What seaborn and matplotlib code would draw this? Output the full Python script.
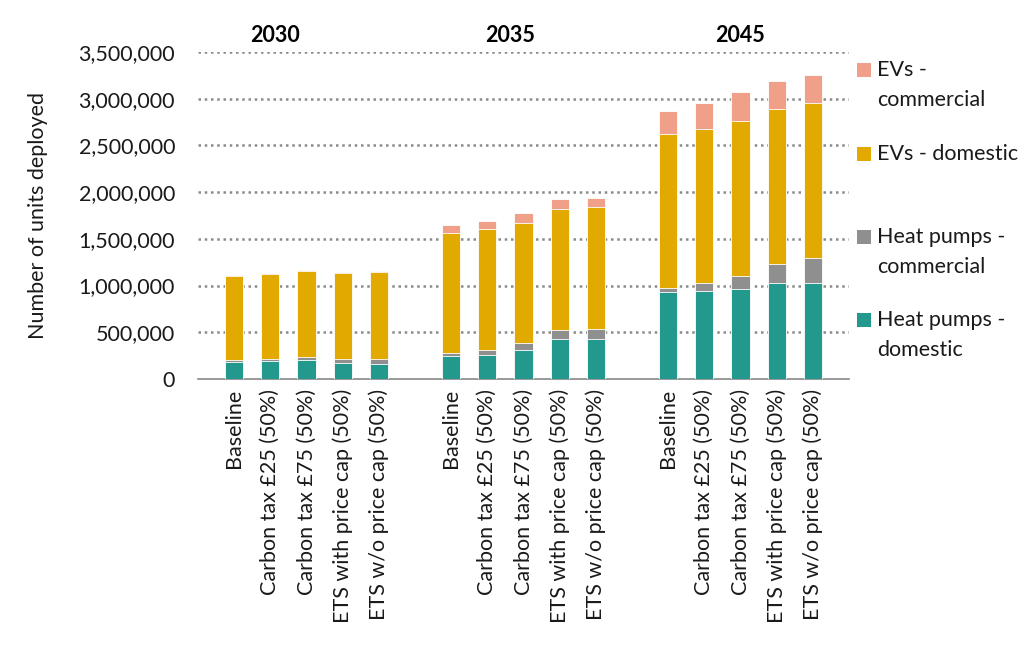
import numpy as np
import pandas as pd
import matplotlib as mpl
mpl.use('Agg')
import matplotlib.pyplot as plt
import seaborn as sns
from matplotlib.patches import Rectangle

# data (units deployed)
years = ['2030', '2035', '2045']
scenarios = ['Baseline', 'Carbon tax £25 (50%)', 'Carbon tax £75 (50%)',
             'ETS with price cap (50%)', 'ETS w/o price cap (50%)']

hp_domestic = [180000, 193000, 200000, 175000, 165000,
               245000, 258000, 308000, 425000, 425000,
               930000, 942000, 964000, 1025000, 1025000]
hp_commercial = [20000, 18000, 36000, 40000, 53000,
                 33000, 56000, 74000, 96000, 110000,
                 40000, 82000, 142000, 210000, 272000]
ev_domestic = [905000, 908000, 915000, 924000, 924000,
               1288000, 1289000, 1292000, 1296000, 1303000,
               1652000, 1649000, 1653000, 1652000, 1652000]
ev_commercial = [8000, 12000, 16000, 10000, 10000,
                 83000, 92000, 103000, 107000, 97000,
                 246000, 285000, 310000, 307000, 307000]

series_names = ['EVs - commercial', 'EVs - domestic',
                'Heat pumps - commercial', 'Heat pumps - domestic']
colors = ['#f0a088', '#e2aa00', '#8f8f8f', '#23998e']

# positions: one empty slot between year groups
pos = []
for g in range(len(years)):
    for s in range(len(scenarios)):
        pos.append(1 + g * 6 + s)

df = pd.DataFrame({'pos': pos,
                   'hp_d': hp_domestic, 'hp_c': hp_commercial,
                   'ev_d': ev_domestic, 'ev_c': ev_commercial})
df['lvl1'] = df['hp_d']
df['lvl2'] = df['lvl1'] + df['hp_c']
df['lvl3'] = df['lvl2'] + df['ev_d']
df['lvl4'] = df['lvl3'] + df['ev_c']

sns.set_style('white')
plt.rcParams['font.family'] = ['Lato', 'DejaVu Sans']
fs = 15.5
txt = '#1a1a1a'

fig = plt.figure(figsize=(10.24, 6.58), dpi=100)
ax = fig.add_axes([198 / 1024, 1 - 379 / 658, (849 - 198) / 1024, 327 / 658])

# stacked bars drawn as overlapping cumulative totals
for col, c in zip(['lvl4', 'lvl3', 'lvl2', 'lvl1'], colors):
    sns.barplot(data=df, x='pos', y=col, native_scale=True, color=c,
                width=0.5, errorbar=None, edgecolor='white', linewidth=0.6,
                saturation=1, ax=ax, zorder=3)

ax.set_xlim(0, 18)
ax.set_ylim(0, 3500000)
ax.set_yticks(np.arange(0, 3500001, 500000))
ax.yaxis.set_major_formatter(mpl.ticker.FuncFormatter(lambda v, p: f'{int(v):,}'))
ax.tick_params(axis='y', length=0, pad=16.5, labelsize=fs, labelcolor=txt)

for v in np.arange(500000, 3500001, 500000):
    ax.axhline(v, color='#8a8a8a', linestyle=(0, (1, 1.5)), linewidth=1.8, zorder=1)

# scenario names on major ticks, group separators on minor ticks
ax.xaxis.remove_overlapping_locs = False
ax.set_xticks(pos)
ax.set_xticklabels(scenarios * len(years), rotation=90, fontsize=fs, color=txt)
ax.tick_params(axis='x', which='major', length=0, pad=7)
ax.set_xticks([0, 4, 8, 12, 16], minor=True)
ax.tick_params(axis='x', which='minor', length=7, width=1.1, color='#888888')

for side in ['top', 'right', 'left']:
    ax.spines[side].set_visible(False)
ax.spines['bottom'].set_color('#888888')
ax.spines['bottom'].set_linewidth(1.2)

ax.set_xlabel('')
ax.set_ylabel('Number of units deployed', fontsize=fs, color=txt, labelpad=22)

# year headers
year_x = [2.12, 8.63, 15.0]
for yx, yr in zip(year_x, years):
    ax.text(yx, 1.05, yr, transform=ax.get_xaxis_transform(), ha='center',
            va='center', fontsize=fs, fontweight='bold', color='black')

# legend, drawn by hand to follow the reference layout
leg_y = [70, 154, 237, 320]
leg_lines = [['EVs -', 'commercial'], ['EVs - domestic'],
             ['Heat pumps -', 'commercial'], ['Heat pumps -', 'domestic']]
for yy, lines, c in zip(leg_y, leg_lines, colors):
    fig.patches.append(Rectangle((857 / 1024, 1 - (yy + 7) / 658), 14 / 1024, 14 / 658,
                                 transform=fig.transFigure, facecolor=c,
                                 edgecolor='none'))
    for i, t in enumerate(lines):
        fig.text(877 / 1024, 1 - (yy + i * 30) / 658, t, ha='left', va='center',
                 fontsize=fs, color=txt)

fig.savefig('out.png', dpi=100)
